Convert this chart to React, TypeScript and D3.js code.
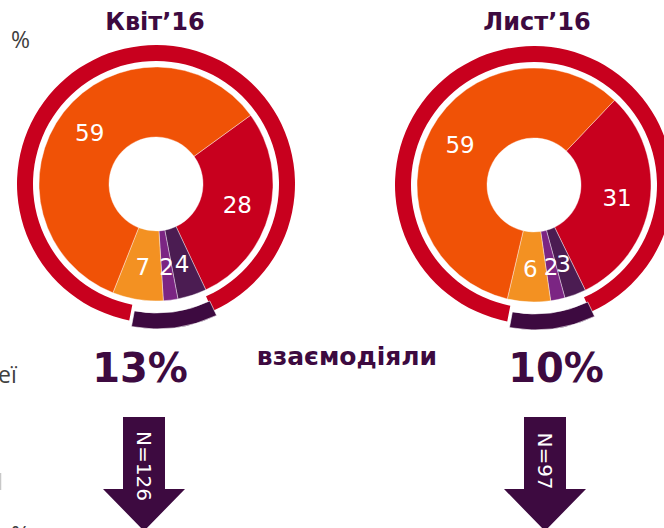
import React from "react";
import * as d3 from "d3";

// slice order goes clockwise, starting at the orange/red border
const segments = ["other", "hardly", "rarely", "sometimes", "never"];
const colors = ["#c8001e", "#4b1c52", "#7b2583", "#f39122", "#f05206"];

const periods = ["Квіт’16", "Лист’16"];
const valuesApr = [28, 4, 2, 7, 59];
const valuesNov = [31, 3, 2, 6, 59];
const interacted = ["13%", "10%"];
const sampleN = ["N=126", "N=97"];

const W = 664;
const H = 528;
const PURPLE = "#3d0a40";
const FONT = "DejaVu Sans, Verdana, sans-serif";

type DonutProps = {
  cx: number;
  cy: number;
  values: number[];
  start: number; // degrees
};

const rad = (deg: number) => (deg * Math.PI) / 180;

const Donut = ({ cx, cy, values, start }: DonutProps) => {
  const pie = d3
    .pie<number>()
    .sort(null)
    .value((d) => d)
    .startAngle(rad(start))
    .endAngle(rad(start + 360));
  const arc = d3.arc<d3.PieArcDatum<number>>().innerRadius(47).outerRadius(117);
  const labelArc = d3.arc<d3.PieArcDatum<number>>().innerRadius(84).outerRadius(84);
  const slices = pie(values);

  // outer frame: red ring with the highlighted part pulled out a bit
  const ring = d3.arc().innerRadius(123).outerRadius(139);
  const hiStart = 154.5;
  const hiEnd = 190.5;
  const mid = rad((hiStart + hiEnd) / 2);
  const pull = 6;

  return (
    <g transform={`translate(${cx},${cy})`}>
      <path
        d={ring({ startAngle: rad(hiEnd + 0.6), endAngle: rad(hiStart + 360 + 1.5), innerRadius: 123, outerRadius: 139 } as any) || ""}
        fill="#c8001e"
      />
      <path
        transform={`translate(${Math.sin(mid) * pull},${-Math.cos(mid) * pull})`}
        d={ring({ startAngle: rad(hiStart), endAngle: rad(hiEnd), innerRadius: 123, outerRadius: 139 } as any) || ""}
        fill={PURPLE}
        stroke="#fff"
        strokeWidth={0.6}
      />
      {slices.map((s, i) => (
        <path key={segments[i]} d={arc(s) || ""} fill={colors[i]} stroke="#fff" strokeWidth={0.4} />
      ))}
      {slices.map((s, i) => {
        const [x, y] = labelArc.centroid(s);
        return (
          <text
            key={"l" + segments[i]}
            x={x}
            y={y}
            textAnchor="middle"
            dominantBaseline="central"
            fill="#fff"
            fontSize={23}
            fontFamily={FONT}
          >
            {s.data}
          </text>
        );
      })}
    </g>
  );
};

const Arrow = ({ cx, label }: { cx: number; label: string }) => {
  const top = 417;
  const neck = 489;
  const tip = 531;
  const shaft = 21;
  const head = 41;
  const pts = [
    [cx - shaft, top],
    [cx + shaft, top],
    [cx + shaft, neck],
    [cx + head, neck],
    [cx, tip],
    [cx - head, neck],
    [cx - shaft, neck],
  ];
  const line = d3.line();
  return (
    <g>
      <path d={(line(pts as [number, number][]) || "") + "Z"} fill={PURPLE} />
      <text
        transform={`translate(${cx},${label.length > 4 ? 466 : 461}) rotate(90)`}
        textAnchor="middle"
        dominantBaseline="central"
        fill="#fff"
        fontSize={20}
        fontFamily={FONT}
      >
        {label}
      </text>
    </g>
  );
};

export default function App() {
  const centers = [
    { cx: 156, cy: 184, title: 155, pct: 140, arrow: 144 },
    { cx: 534, cy: 185, title: 537, pct: 556, arrow: 545 },
  ];
  const data = [valuesApr, valuesNov];
  const starts = [54, 43.5];
  return (
    <svg
      width={W}
      height={H}
      viewBox={`0 0 ${W} ${H}`}
      style={{ position: "absolute", left: 0, top: 0, background: "#fff" }}
    >
      {/* bits of the neighbouring slide text, cut by the left edge */}
      <text x={11} y={48} fontSize={23} fill="#404040" fontFamily="Open Sans, sans-serif">
        %
      </text>
      <text x={-2} y={383} fontSize={23} fill="#404040" fontFamily="Open Sans, sans-serif">
        еї
      </text>
      <line x1={0.5} x2={0.5} y1={473} y2={490} stroke="#c8c8c8" strokeWidth={1.5} />
      <text x={11} y={543} fontSize={23} fill="#404040" fontFamily="Open Sans, sans-serif">
        %
      </text>

      {centers.map((c, i) => (
        <g key={periods[i]}>
          <text x={c.title} y={30} textAnchor="middle" fontSize={24} fontWeight="bold" fill={PURPLE} fontFamily={FONT}>
            {periods[i]}
          </text>
          <Donut cx={c.cx} cy={c.cy} values={data[i]} start={starts[i]} />
          <text x={c.pct} y={382} textAnchor="middle" fontSize={40} fontWeight="bold" fill={PURPLE} fontFamily={FONT}>
            {interacted[i]}
          </text>
          <Arrow cx={c.arrow} label={sampleN[i]} />
        </g>
      ))}

      <text x={347} y={365} textAnchor="middle" fontSize={25} fontWeight="bold" fill={PURPLE} fontFamily={FONT}>
        взаємодіяли
      </text>
    </svg>
  );
}
